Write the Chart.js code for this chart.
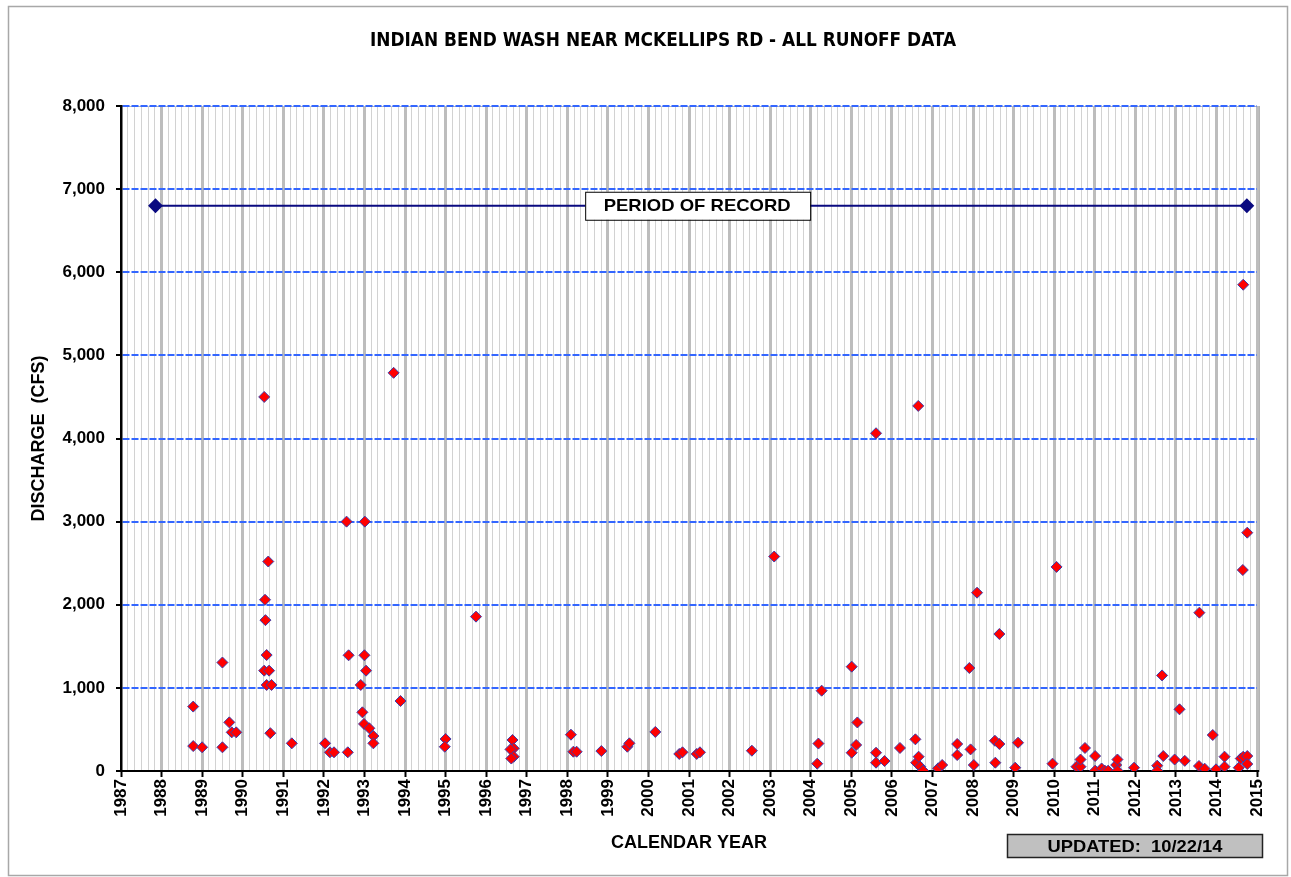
<!DOCTYPE html>
<html>
<head>
<meta charset="utf-8">
<title>Indian Bend Wash near McKellips Rd - All Runoff Data</title>
<script src="https://cdn.jsdelivr.net/npm/chart.js@4.4.1/dist/chart.umd.min.js"></script>
<style>
  body { margin: 0; background: #fff; }
  #chart { display: block; }
</style>
</head>
<body>
<canvas id="chart" width="1291" height="877"></canvas>
<script>
// runoff events: decimal year and peak discharge (cfs)
var eventYears = [
    1988.78, 1988.78, 1989.00, 1989.50, 1989.50, 1989.67, 1989.73, 1989.84,
    1990.53, 1990.55, 1990.56, 1990.63, 1990.59, 1990.53, 1990.65, 1990.59, 1990.71, 1990.68,
    1991.21,
    1992.03, 1992.15, 1992.25, 1992.56, 1992.59, 1992.61, 1992.91, 1992.95, 1992.99,
    1993.01, 1993.00, 1993.04, 1993.12, 1993.22, 1993.22, 1993.72, 1993.89,
    1995.00, 1994.98, 1995.75,
    1996.65, 1996.68, 1996.60, 1996.68, 1996.62,
    1998.09, 1998.15, 1998.23, 1998.84, 1999.48, 1999.53,
    2000.17, 2000.76, 2000.84, 2001.19, 2001.27, 2002.55, 2003.10,
    2004.16, 2004.19, 2004.27,
    2005.01, 2005.01, 2005.12, 2005.15, 2005.61, 2005.61, 2005.61, 2005.82,
    2006.20, 2006.58, 2006.60, 2006.65, 2006.66, 2006.70, 2006.77,
    2007.14, 2007.24, 2007.61, 2007.61, 2007.91, 2007.94,
    2008.02, 2008.10, 2008.54, 2008.55, 2008.65, 2008.65,
    2009.04, 2009.11, 2009.96, 2010.06,
    2010.55, 2010.65, 2010.65, 2010.76,
    2011.01, 2011.01, 2011.17, 2011.25, 2011.33, 2011.53, 2011.56, 2011.56, 2011.97,
    2012.54, 2012.54, 2012.66, 2012.69, 2012.97,
    2013.09, 2013.22, 2013.57, 2013.58, 2013.71, 2013.91, 2013.99,
    2014.20, 2014.20, 2014.55, 2014.60, 2014.65, 2014.66, 2014.66, 2014.76, 2014.76, 2014.76
];
var eventCfs = [
    775, 300, 285, 285, 1305, 585, 465, 465,
    4500, 2060, 1815, 2520, 1395, 1207, 1207, 1035, 1035, 455,
    333,
    333, 225, 225, 3000, 225, 1392, 1035, 706, 566,
    3000, 1392, 1207, 514, 421, 333, 4790, 842,
    385, 292, 1857,
    373, 272, 260, 172, 150,
    437, 232, 232, 240, 292, 333,
    470, 205, 225, 205, 225, 244, 2580,
    88, 330, 966,
    1255, 220, 313, 584, 4063, 220, 100, 120,
    277, 381, 100, 4392, 172, 52, 5,
    32, 72, 325, 192, 1239, 260,
    72, 2145, 364, 100, 325, 1648,
    40, 340, 88, 2455,
    52, 52, 138, 277,
    180, 4, 30, 4, 4, 72, 138, 4, 40,
    64, 4, 1150, 180, 138,
    742, 122, 60, 1905, 28, 433, 20,
    172, 52, 40, 150, 2418, 5850, 172, 180, 2867, 84
];

// period of record
var recordYears = [1987.85, 2014.75];
var recordCfs = [6800, 6800];

var xMin = 1987, xMax = 2015;
var yMax = 8000, yStep = 1000;
var updatedText = 'UPDATED:  10/22/14';

var fontFamily = '"Liberation Sans", Arial, sans-serif';

function fitText(ctx, text, cx, cy, width, font) {
    ctx.save();
    ctx.font = font;
    var w = ctx.measureText(text).width;
    ctx.translate(cx, cy);
    ctx.scale(width / w, 1);
    ctx.textAlign = 'center';
    ctx.textBaseline = 'middle';
    ctx.fillStyle = '#000';
    ctx.fillText(text, 0, 0);
    ctx.restore();
}

var decorPlugin = {
    id: 'decor',
    beforeDraw: function (chart) {
        var ctx = chart.ctx, a = chart.chartArea;
        ctx.save();
        ctx.fillStyle = '#fff';
        ctx.fillRect(0, 0, chart.width, chart.height);
        ctx.strokeStyle = '#a8a8a8';
        ctx.lineWidth = 1.5;
        ctx.strokeRect(8.5, 6.5, 1279, 869);
        ctx.strokeStyle = '#b4b4b4';
        ctx.lineWidth = 1;
        ctx.strokeRect(a.left + 0.5, a.top + 0.5, a.right - a.left + 2, a.bottom - a.top);
        ctx.restore();
    },
    afterDatasetsDraw: function (chart) {
        var ctx = chart.ctx;
        var xs = chart.scales.x, ys = chart.scales.y;
        var cx = xs.getPixelForValue((recordYears[0] + recordYears[1]) / 2) - 4;
        var cy = ys.getPixelForValue(recordCfs[0]);
        ctx.save();
        ctx.fillStyle = '#fff';
        ctx.strokeStyle = '#000';
        ctx.lineWidth = 1;
        ctx.fillRect(cx - 112, cy - 14, 225, 28);
        ctx.strokeRect(cx - 112 + 0.5, cy - 14 + 0.5, 225, 28);
        ctx.restore();
        fitText(ctx, 'PERIOD OF RECORD', cx, cy + 1, 187, 'bold 17px ' + fontFamily);
    },
    afterDraw: function (chart) {
        var ctx = chart.ctx;
        fitText(ctx, 'INDIAN BEND WASH NEAR MCKELLIPS RD - ALL RUNOFF DATA', 663, 41, 586,
            'bold 19px "Liberation Sans Narrow", "DejaVu Sans Condensed", sans-serif');
        ctx.save();
        ctx.fillStyle = '#c0c0c0';
        ctx.fillRect(1007, 834, 255, 23);
        ctx.strokeStyle = '#222';
        ctx.lineWidth = 1.5;
        ctx.strokeRect(1007.5, 834.5, 255, 23);
        ctx.restore();
        fitText(ctx, updatedText, 1135, 847, 175, 'bold 17px ' + fontFamily);
    }
};

var boldFont = function (size) {
    return { family: fontFamily, size: size, weight: 'bold' };
};

var ctx = document.getElementById('chart');
var myChart = new Chart(ctx, {
    type: 'scatter',
    data: {
        datasets: [{
            label: 'Runoff',
            data: eventYears.map(function (yr, i) { return { x: yr, y: eventCfs[i] }; }),
            pointStyle: 'rectRot',
            pointRadius: 5.5,
            backgroundColor: '#ff0000',
            borderColor: '#3d3dab',
            borderWidth: 1
        }, {
            label: 'Period of record',
            data: recordYears.map(function (yr, i) { return { x: yr, y: recordCfs[i] }; }),
            showLine: true,
            borderColor: '#0a0a80',
            borderWidth: 2,
            pointStyle: 'rectRot',
            pointRadius: 6,
            pointBackgroundColor: '#0a0a80',
            pointBorderColor: '#0a0a80'
        }]
    },
    options: {
        responsive: false,
        animation: false,
        layout: {
            padding: { left: 28, right: 34, top: 106, bottom: 23 }
        },
        plugins: {
            legend: { display: false },
            tooltip: { enabled: false }
        },
        scales: {
            x: {
                type: 'linear',
                min: xMin,
                max: xMax,
                afterBuildTicks: function (scale) {
                    var ticks = [];
                    for (var i = 0; i <= (xMax - xMin) * 6; i++) {
                        ticks.push({ value: xMin + i / 6 });
                    }
                    scale.ticks = ticks;
                },
                afterFit: function (scale) { scale.height = 83; },
                grid: {
                    color: function (c) {
                        if (c.index === 0) return 'transparent';
                        return c.index % 6 === 0 ? '#bdbdbd' : '#d2d2d2';
                    },
                    lineWidth: function (c) { return c.index % 6 === 0 ? 3 : 1; },
                    tickColor: function (c) { return c.index % 6 === 0 ? '#000' : 'transparent'; },
                    tickWidth: 2,
                    tickLength: 6
                },
                border: { color: '#000', width: 2 },
                ticks: {
                    autoSkip: false,
                    minRotation: 90,
                    maxRotation: 90,
                    padding: 2,
                    color: '#000',
                    font: boldFont(17),
                    callback: function (v, i) { return i % 6 === 0 ? String(Math.round(v)) : ''; }
                },
                title: {
                    display: true,
                    text: 'CALENDAR YEAR',
                    color: '#000',
                    font: boldFont(18),
                    padding: 0
                }
            },
            y: {
                min: 0,
                max: yMax,
                afterFit: function (scale) { scale.width = 93; },
                grid: {
                    color: function (c) { return c.tick && c.tick.value === 0 ? 'transparent' : '#3366ff'; },
                    lineWidth: 2,
                    tickColor: '#000',
                    tickWidth: 2,
                    tickLength: 5
                },
                border: { color: '#000', width: 2.5, dash: [7, 2] },
                ticks: {
                    stepSize: yStep,
                    padding: 11,
                    color: '#000',
                    font: boldFont(17),
                    callback: function (v) { return v.toLocaleString('en-US'); }
                },
                title: {
                    display: true,
                    text: 'DISCHARGE  (CFS)',
                    color: '#000',
                    font: boldFont(18),
                    padding: 0
                }
            }
        }
    },
    plugins: [decorPlugin]
});
</script>
</body>
</html>
